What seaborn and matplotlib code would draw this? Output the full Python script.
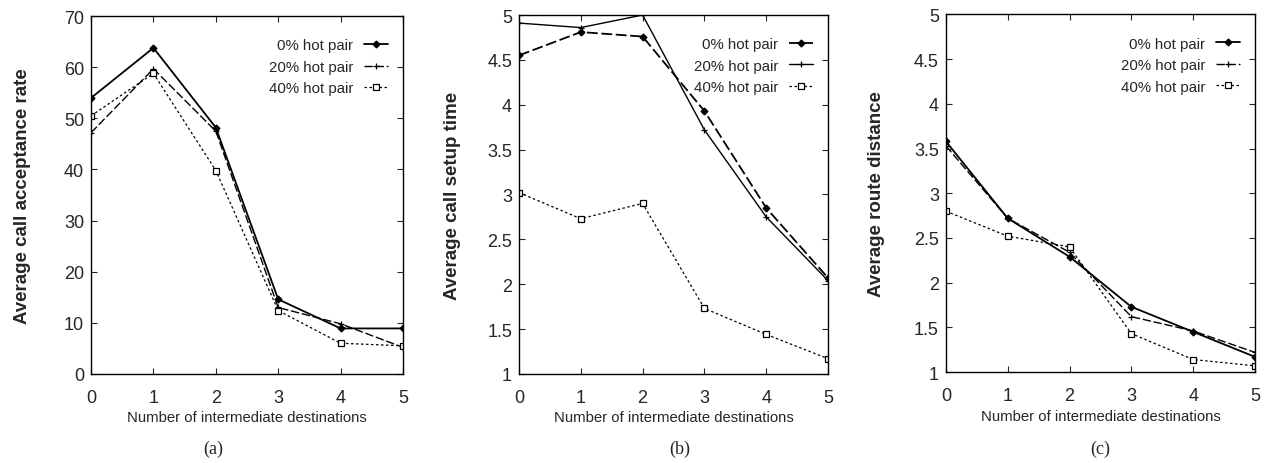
import pandas as pd
import matplotlib
matplotlib.use("Agg")
import matplotlib.pyplot as plt
import seaborn as sns

# x axis shared by all three panels
destinations = [0, 1, 2, 3, 4, 5]
series_names = ["0% hot pair", "20% hot pair", "40% hot pair"]

# (a) average call acceptance rate
accept_0 = [54.0, 63.8, 48.2, 14.6, 8.9, 8.9]
accept_20 = [47.2, 59.7, 47.5, 13.0, 9.8, 5.2]
accept_40 = [50.5, 58.8, 39.8, 12.4, 6.0, 5.5]

# (b) average call setup time
setup_0 = [4.55, 4.81, 4.76, 3.93, 2.85, 2.07]
setup_20 = [4.91, 4.86, 5.00, 3.72, 2.75, 2.04]
setup_40 = [3.02, 2.73, 2.90, 1.73, 1.44, 1.17]

# (c) average route distance
route_0 = [3.58, 2.72, 2.29, 1.73, 1.45, 1.17]
route_20 = [3.53, 2.72, 2.34, 1.62, 1.46, 1.22]
route_40 = [2.80, 2.52, 2.40, 1.43, 1.14, 1.07]

sns.set_theme(style="ticks")
plt.rcParams['font.family'] = ['Liberation Sans', 'DejaVu Sans']

fig = plt.figure(figsize=(12.68, 4.64), dpi=100)

panels = [
    dict(rect=[0.0718, 0.192, 0.246, 0.771], data=[accept_0, accept_20, accept_40],
         ylabel="Average call acceptance rate", ylim=(0, 70),
         yticks=[0, 10, 20, 30, 40, 50, 60, 70],
         styles=["-", (0, (6, 2)), (0, (2, 2))], caption="(a)", cx=0.168, lpad=24),
    dict(rect=[0.4093, 0.192, 0.2437, 0.7735], data=[setup_0, setup_20, setup_40],
         ylabel="Average call setup time", ylim=(1, 5),
         yticks=[1, 1.5, 2, 2.5, 3, 3.5, 4, 4.5, 5],
         styles=[(0, (6, 2)), "-", (0, (2, 2))], caption="(b)", cx=0.536, lpad=19),
    dict(rect=[0.746, 0.196, 0.2437, 0.7706], data=[route_0, route_20, route_40],
         ylabel="Average route distance", ylim=(1, 5),
         yticks=[1, 1.5, 2, 2.5, 3, 3.5, 4, 4.5, 5],
         styles=["-", (0, (6, 2)), (0, (2, 2))], caption="(c)", cx=0.868, lpad=21),
]

markers = ["D", "+", "s"]
msizes = [3.5, 5, 4]
lwidths = [1.3, 1.0, 0.9]

for p in panels:
    ax = fig.add_axes(p["rect"])
    for name, vals, ls, mk, ms, lw in zip(series_names, p["data"], p["styles"],
                                          markers, msizes, lwidths):
        df = pd.DataFrame({"x": destinations, "y": vals})
        sns.lineplot(data=df, x="x", y="y", ax=ax, color="black", linestyle=ls,
                     marker=mk, markersize=ms, linewidth=lw,
                     markerfacecolor="white" if mk == "s" else "black",
                     markeredgecolor="black", markeredgewidth=0.9, label=name)
    ax.set_xlim(0, 5)
    ax.set_ylim(*p["ylim"])
    ax.set_xticks(destinations)
    ax.set_yticks(p["yticks"])
    ax.set_yticklabels([f"{v:g}" for v in p["yticks"]])
    ax.tick_params(direction="in", top=True, right=True, length=4, width=0.8,
                   labelsize=13)
    ax.tick_params(axis="x", pad=11)
    ax.tick_params(axis="y", pad=5)
    for s in ax.spines.values():
        s.set_linewidth(1.0)
        s.set_color("black")
    ax.set_xlabel("Number of intermediate destinations", fontsize=10.7, labelpad=3)
    ax.set_ylabel(p["ylabel"], fontsize=13.5, fontweight="bold", labelpad=p["lpad"])
    ax.legend(loc="upper right", bbox_to_anchor=(0.97, 0.955), borderaxespad=0,
              frameon=False, markerfirst=False, fontsize=10.8,
              handlelength=1.6, handletextpad=0.7, labelspacing=0.5)
    fig.text(p["cx"], 0.032, p["caption"], ha="center", va="center", fontsize=13,
             family=['Liberation Serif', 'DejaVu Serif'])

fig.savefig("out.png", dpi=100)
